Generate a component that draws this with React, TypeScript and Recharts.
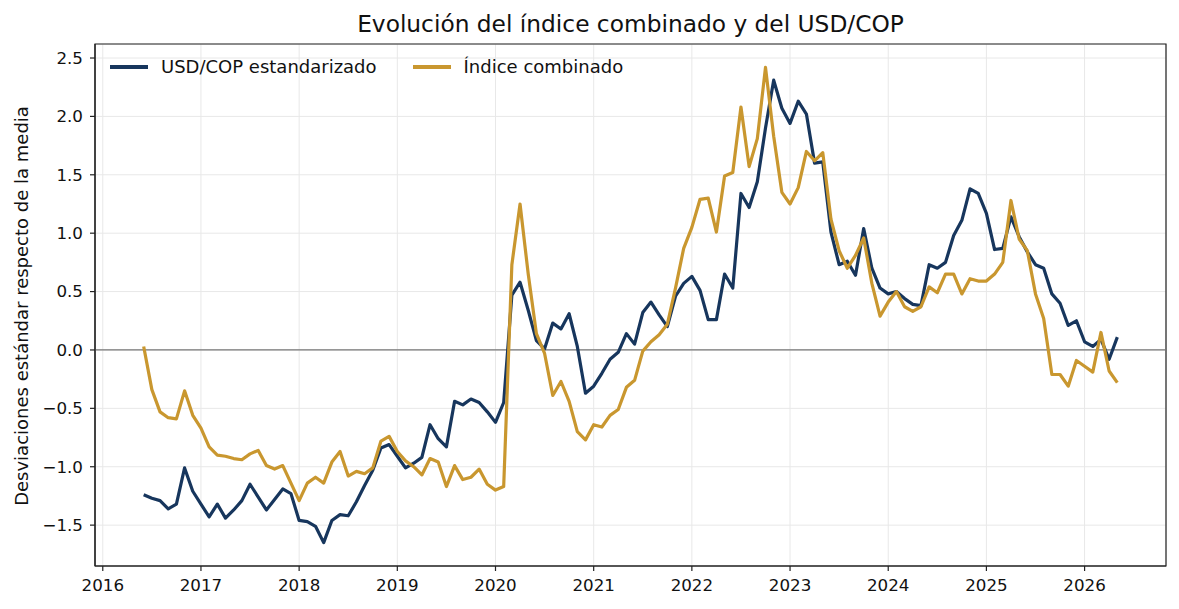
import React from "react";
import {
  LineChart,
  Line,
  XAxis,
  YAxis,
  CartesianGrid,
  ReferenceLine,
  ReferenceArea,
} from "recharts";

// Monthly observations, June 2016 .. May 2026
const START_YEAR = 2016;
const START_MONTH = 6; // June

const usdCop: number[] = [
  -1.24, -1.27, -1.29, -1.36, -1.32, -1.01, -1.21, -1.32, -1.43, -1.32,
  -1.44, -1.37, -1.29, -1.15, -1.26, -1.37, -1.28, -1.19, -1.23, -1.46,
  -1.47, -1.51, -1.65, -1.46, -1.41, -1.42, -1.3, -1.16, -1.03, -0.84,
  -0.81, -0.91, -1.01, -0.97, -0.92, -0.64, -0.76, -0.83, -0.44, -0.47,
  -0.42, -0.45, -0.53, -0.62, -0.45, 0.47, 0.58, 0.34, 0.08, 0.01,
  0.23, 0.18, 0.31, 0.03, -0.37, -0.31, -0.2, -0.08, -0.02, 0.14,
  0.05, 0.32, 0.41, 0.3, 0.2, 0.46, 0.57, 0.63, 0.51, 0.26,
  0.26, 0.65, 0.53, 1.34, 1.22, 1.44, 1.9, 2.31, 2.07, 1.94,
  2.13, 2.02, 1.6, 1.61, 1.01, 0.73, 0.76, 0.64, 1.04, 0.7,
  0.53, 0.48, 0.5, 0.44, 0.39, 0.38, 0.73, 0.7, 0.75, 0.98,
  1.11, 1.38, 1.34, 1.17, 0.86, 0.87, 1.14, 0.97, 0.84, 0.73,
  0.7, 0.48, 0.4, 0.21, 0.25, 0.07, 0.03, 0.09, -0.08, 0.11,
];

const indiceCombinado: number[] = [
  0.03, -0.34, -0.53, -0.58, -0.59, -0.35, -0.56, -0.67, -0.83, -0.9,
  -0.91, -0.93, -0.94, -0.89, -0.86, -0.99, -1.02, -0.99, -1.14, -1.29,
  -1.14, -1.09, -1.14, -0.96, -0.87, -1.08, -1.04, -1.06, -1.01, -0.78,
  -0.74, -0.87, -0.95, -1.0, -1.07, -0.93, -0.96, -1.17, -0.99, -1.11,
  -1.09, -1.02, -1.15, -1.2, -1.17, 0.73, 1.25, 0.65, 0.14, -0.03,
  -0.39, -0.27, -0.44, -0.7, -0.77, -0.64, -0.66, -0.56, -0.51, -0.32,
  -0.26, -0.01, 0.07, 0.13, 0.22, 0.53, 0.87, 1.05, 1.29, 1.3,
  1.01, 1.49, 1.52, 2.08, 1.57, 1.81, 2.42, 1.83, 1.35, 1.25,
  1.39, 1.7, 1.62, 1.69, 1.12, 0.85, 0.7, 0.81, 0.96, 0.57,
  0.29, 0.41, 0.5, 0.37, 0.33, 0.37, 0.54, 0.49, 0.65, 0.65,
  0.48, 0.61, 0.59, 0.59, 0.65, 0.75, 1.28, 0.95, 0.85, 0.48,
  0.27, -0.21, -0.21, -0.31, -0.09, -0.14, -0.19, 0.15, -0.18, -0.28,
];

const xTicks: number[] = [2016, 2017, 2018, 2019, 2020, 2021, 2022, 2023, 2024, 2025, 2026];
const yTicks: number[] = [-1.5, -1.0, -0.5, 0.0, 0.5, 1.0, 1.5, 2.0, 2.5];

const SERIES_USD = "USD/COP estandarizado";
const SERIES_IDX = "Índice combinado";
const TITLE = "Evolución del índice combinado y del USD/COP";
const Y_LABEL = "Desviaciones estándar respecto de la media";

const NAVY = "#17365d";
const GOLD = "#c9972f";
const FONT = "'DejaVu Sans', sans-serif";

const data = usdCop.map((v, i) => ({
  t: START_YEAR + (START_MONTH - 1 + i) / 12,
  usd: v,
  idx: indiceCombinado[i],
}));

const tFirst = data[0].t;
const tLast = data[data.length - 1].t;
const pad = (tLast - tFirst) * 0.05;
const X_DOMAIN: [number, number] = [tFirst - pad, tLast + pad];
const Y_DOMAIN: [number, number] = [-1.85, 2.62];

const fmtY = (v: number) => {
  const s = Math.abs(v).toFixed(1);
  return v < 0 ? "\u2212" + s : s;
};

const legendItems = [
  { label: SERIES_USD, color: NAVY },
  { label: SERIES_IDX, color: GOLD },
];

export default function App() {
  return (
    <div style={{ position: "absolute", left: 0, top: 0, width: 1179, height: 609, background: "#fff" }}>
      <LineChart
        width={1179}
        height={609}
        data={data}
        margin={{ top: 44, right: 13, left: 0, bottom: 0 }}
        style={{ position: "absolute", left: 0, top: 0 }}
      >
        <CartesianGrid stroke="#e8e8e8" strokeWidth={1} />
        <XAxis
          dataKey="t"
          type="number"
          domain={X_DOMAIN}
          ticks={xTicks}
          height={43}
          allowDataOverflow
          tickSize={5}
          tickMargin={8}
          axisLine={{ stroke: "#222", strokeWidth: 1.2 }}
          tickLine={{ stroke: "#222", strokeWidth: 1.2 }}
          tick={{ fill: "#111", fontSize: 16.7, fontFamily: FONT }}
          tickFormatter={(v: number) => String(Math.round(v))}
        />
        <YAxis
          type="number"
          domain={Y_DOMAIN}
          ticks={yTicks}
          width={95}
          allowDataOverflow
          tickSize={5}
          tickMargin={7}
          axisLine={{ stroke: "#222", strokeWidth: 1.2 }}
          tickLine={{ stroke: "#222", strokeWidth: 1.2 }}
          tick={{ fill: "#111", fontSize: 16.7, fontFamily: FONT }}
          tickFormatter={fmtY}
        />
        <ReferenceLine y={0} stroke="#777" strokeWidth={1.3} />
        <Line
          type="linear"
          dataKey="usd"
          name={SERIES_USD}
          stroke={NAVY}
          strokeWidth={3.2}
          strokeLinejoin="round"
          dot={false}
          activeDot={false}
          isAnimationActive={false}
        />
        <Line
          type="linear"
          dataKey="idx"
          name={SERIES_IDX}
          stroke={GOLD}
          strokeWidth={3.2}
          strokeLinejoin="round"
          dot={false}
          activeDot={false}
          isAnimationActive={false}
        />
        <ReferenceArea
          x1={X_DOMAIN[0]}
          x2={X_DOMAIN[1]}
          y1={Y_DOMAIN[0]}
          y2={Y_DOMAIN[1]}
          fill="none"
          fillOpacity={0}
          stroke="#222"
          strokeWidth={1.2}
          ifOverflow="visible"
        />
      </LineChart>
      <div
        style={{
          position: "absolute",
          left: 95,
          width: 1071,
          top: 9,
          textAlign: "center",
          fontFamily: FONT,
          fontSize: 23.3,
          lineHeight: "30px",
          color: "#111",
        }}
      >
        {TITLE}
      </div>
      <div
        style={{
          position: "absolute",
          left: 22,
          top: 306,
          transform: "translate(-50%, -50%) rotate(-90deg)",
          whiteSpace: "nowrap",
          fontFamily: FONT,
          fontSize: 18,
          lineHeight: "22px",
          color: "#111",
        }}
      >
        {Y_LABEL}
      </div>
      <div
        style={{
          position: "absolute",
          left: 110,
          top: 56,
          display: "flex",
          alignItems: "center",
          fontFamily: FONT,
          fontSize: 18,
          lineHeight: "22px",
          color: "#111",
        }}
      >
        {legendItems.map((it, k) => (
          <React.Fragment key={it.label}>
            <span style={{ display: "inline-block", width: 38, height: 3.5, background: it.color, marginRight: 13 }} />
            <span style={{ marginRight: k === 0 ? 36 : 0 }}>{it.label}</span>
          </React.Fragment>
        ))}
      </div>
    </div>
  );
}
